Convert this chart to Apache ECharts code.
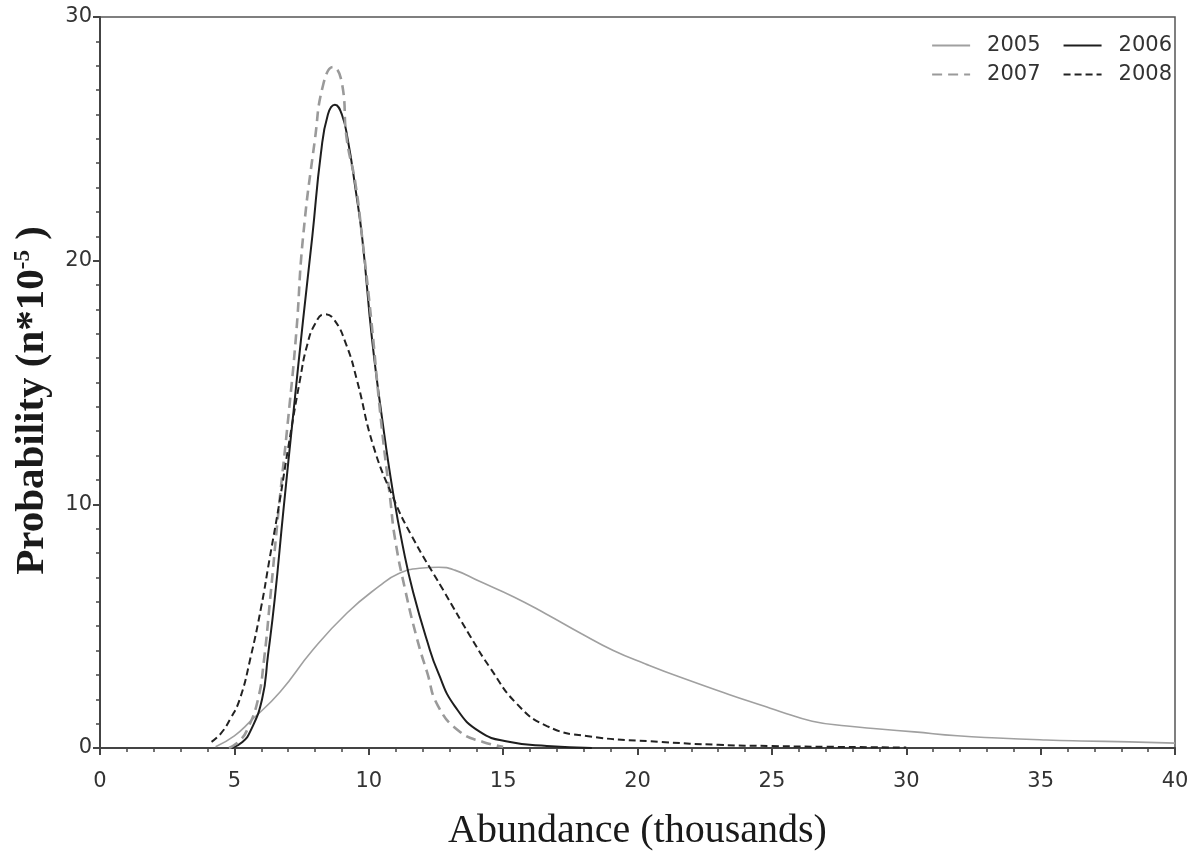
<!DOCTYPE html>
<html>
<head>
<meta charset="utf-8">
<script src="https://cdn.jsdelivr.net/npm/echarts@6/dist/echarts.min.js"></script>
<style>
html,body{margin:0;padding:0;background:#fff;}
#chart{width:1196px;height:856px;}
</style>
</head>
<body>
<div id="chart"></div>
<script>
// ---- data (x: abundance, thousands; y: probability n*10^-5) ----
const seriesNames = ['2005', '2006', '2007', '2008'];

const x2005 = [4.3, 5.0, 5.6, 6.7, 7.9, 9.2, 10.4, 11.1, 11.9, 12.6, 13.2, 14.1, 15.4, 16.6, 17.9, 19.1, 20.3, 21.6, 23.4, 24.7, 25.3, 26.5, 27.8, 29.0, 30.3, 31.9, 33.4, 35.2, 36.5, 38.3, 40.0];
const y2005 = [0.05, 0.5, 1.1, 2.3, 4.0, 5.55, 6.65, 7.15, 7.38, 7.42, 7.3, 6.85, 6.2, 5.5, 4.7, 4.0, 3.45, 2.9, 2.2, 1.72, 1.5, 1.1, 0.9, 0.78, 0.66, 0.5, 0.41, 0.33, 0.29, 0.25, 0.2];

const x2006 = [4.9, 5.3, 5.6, 6.03, 6.25, 6.5, 6.82, 7.2, 7.55, 7.9, 8.22, 8.48, 8.74, 9.0, 9.23, 9.5, 9.76, 10.12, 10.5, 10.9, 11.3, 11.65, 12.17, 12.58, 13.2, 14.14, 15.26, 16.63, 18.3];
const y2006 = [0, 0.25, 0.7, 2.0, 3.8, 6.1, 9.7, 13.8, 17.5, 21.0, 24.4, 26.0, 26.4, 26.0, 24.9, 23.0, 20.9, 16.8, 13.5, 10.5, 8.1, 6.4, 4.4, 3.1, 1.72, 0.66, 0.25, 0.08, 0.0];

const x2007 = [4.8, 5.2, 5.5, 5.88, 6.1, 6.33, 6.64, 7.0, 7.3, 7.55, 8.0, 8.3, 8.67, 9.0, 9.18, 9.5, 9.76, 10.1, 10.45, 10.8, 10.98, 11.35, 11.8, 12.17, 12.58, 13.4, 14.25, 15.0];
const y2007 = [0, 0.3, 0.8, 2.0, 3.6, 6.1, 9.7, 13.5, 17.0, 20.9, 25.0, 27.2, 27.95, 27.3, 25.0, 23.2, 20.9, 17.5, 13.5, 10.2, 8.57, 6.52, 4.47, 3.11, 1.72, 0.66, 0.25, 0.05];

const x2008 = [4.15, 4.5, 4.85, 5.2, 5.6, 6.0, 6.3, 6.65, 7.0, 7.44, 7.7, 8.0, 8.35, 8.7, 9.18, 9.56, 10.17, 10.9, 11.6, 12.76, 13.77, 14.51, 15.52, 16.63, 18.1, 20.9, 23.0, 25.0, 27.0, 30.0];
const y2008 = [0.25, 0.6, 1.2, 2.0, 3.7, 5.8, 7.7, 9.9, 12.3, 15.1, 16.5, 17.4, 17.8, 17.6, 16.5, 15.1, 12.4, 10.3, 8.7, 6.5, 4.6, 3.3, 1.8, 0.9, 0.49, 0.25, 0.13, 0.08, 0.05, 0.02];

const xTicks = [0, 5, 10, 15, 20, 25, 30, 35, 40];
const yTicks = [0, 10, 20, 30];

// ---- build ----
function pairs(xs, ys) { return xs.map((v, i) => [v, ys[i]]); }

const styles = {
  '2005': { color: '#a0a0a0', width: 1.6, type: 'solid' },
  '2006': { color: '#1e1e1e', width: 2, type: 'solid' },
  '2007': { color: '#9a9a9a', width: 2.6, type: [10, 6] },
  '2008': { color: '#222222', width: 2, type: [7, 4] }
};
const dataMap = {
  '2005': pairs(x2005, y2005),
  '2006': pairs(x2006, y2006),
  '2007': pairs(x2007, y2007),
  '2008': pairs(x2008, y2008)
};

const chart = echarts.init(document.getElementById('chart'), null, { renderer: 'canvas' });

const legendCommon = {
  right: 19,
  itemWidth: 38,
  itemHeight: 14,
  itemGap: 22,
  itemStyle: { color: 'rgba(0,0,0,0)', borderColor: 'rgba(0,0,0,0)', borderWidth: 0, opacity: 0 },
  textStyle: { fontFamily: 'DejaVu Sans', fontSize: 21, color: '#333', padding: [0, 0, 0, 12] }
};

chart.setOption({
  animation: false,
  backgroundColor: '#fff',
  legend: [
    Object.assign({ top: 30, data: [seriesNames[0], seriesNames[1]] }, legendCommon),
    Object.assign({ top: 59, data: [seriesNames[2], seriesNames[3]] }, legendCommon)
  ],
  grid: {
    left: 100, right: 21, top: 17, bottom: 107,
    show: true, borderColor: '#555', borderWidth: 1.5, backgroundColor: 'transparent'
  },
  xAxis: {
    type: 'value',
    min: xTicks[0], max: xTicks[xTicks.length - 1], interval: xTicks[1] - xTicks[0],
    name: 'Abundance (thousands)',
    nameLocation: 'middle',
    nameGap: 63,
    nameTextStyle: { fontFamily: 'Liberation Serif', fontSize: 40, color: '#1a1a1a' },
    axisLine: { show: true, onZero: false, lineStyle: { color: '#444', width: 2 } },
    axisTick: { show: true, length: 7, lineStyle: { color: '#444', width: 2 } },
    minorTick: { show: true, splitNumber: 5, length: 4, lineStyle: { color: '#444', width: 1.5 } },
    splitLine: { show: false },
    axisLabel: { fontFamily: 'DejaVu Sans', fontSize: 21, color: '#333', margin: 23 }
  },
  yAxis: {
    type: 'value',
    min: yTicks[0], max: yTicks[yTicks.length - 1], interval: yTicks[1] - yTicks[0],
    name: 'Probability (n*10{sup|-5} )',
    nameLocation: 'middle',
    nameGap: 47,
    nameRotate: 90,
    nameTextStyle: {
      fontFamily: 'Liberation Serif', fontSize: 41, fontWeight: 'bold', color: '#1a1a1a',
      padding: [0, 36, 0, 0],
      rich: {
        sup: { fontFamily: 'Liberation Serif', fontSize: 23, fontWeight: 'bold', color: '#1a1a1a', verticalAlign: 'top', padding: [0, 0, 14, 0] }
      }
    },
    axisLine: { show: true, onZero: false, lineStyle: { color: '#444', width: 2 } },
    axisTick: { show: true, length: 7, lineStyle: { color: '#444', width: 2 } },
    minorTick: { show: true, splitNumber: 10, length: 4, lineStyle: { color: '#444', width: 1.5 } },
    splitLine: { show: false },
    axisLabel: { fontFamily: 'DejaVu Sans', fontSize: 21, color: '#333', margin: 8 }
  },
  series: seriesNames.map(n => ({
    name: n,
    type: 'line',
    data: dataMap[n],
    smooth: 0.5,
    symbol: 'none',
    showSymbol: false,
    clip: true,
    lineStyle: { color: styles[n].color, width: styles[n].width, type: styles[n].type },
    itemStyle: { color: styles[n].color },
    z: n === '2005' ? 1 : 2
  }))
});
</script>
</body>
</html>
